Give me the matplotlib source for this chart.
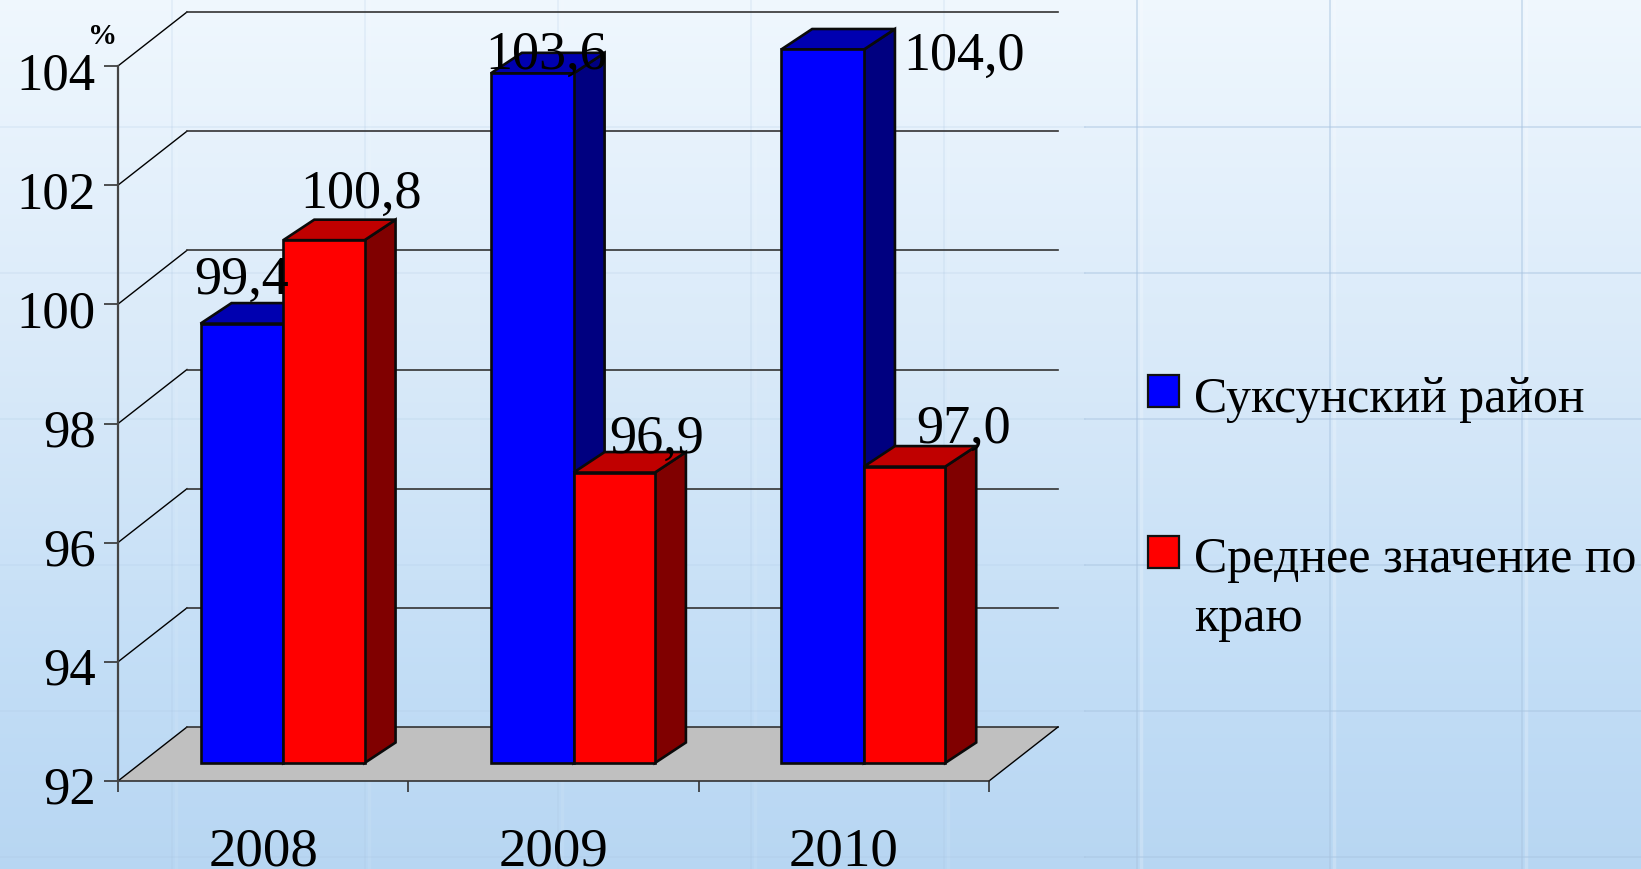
import numpy as np
from matplotlib import pyplot as plt
from matplotlib import transforms
from matplotlib.patches import Polygon, Rectangle

years = ['2008', '2009', '2010']
suksun = [99.4, 103.6, 104.0]
krai = [100.8, 96.9, 97.0]
suksun_labels = ['99,4', '103,6', '104,0']
krai_labels = ['100,8', '96,9', '97,0']
y_ticks = [92, 94, 96, 98, 100, 102, 104]
legend_names = ['Суксунский район', 'Среднее значение по\nкраю']

W, H = 1641, 869
FONT = 'Liberation Serif'

# size of the fake 3d box in data units (one year = 290.33 px, one percent = 59.58 px)
PX_X = 3 / 871
PX_Y = 12 / 715
DX = 69 * PX_X
DY = 54 * PX_Y
BAR_SHIFT_X = 23 * PX_X
BAR_SHIFT_Y = 16.5 * PX_Y
BAR_DX = 31 * PX_X
BAR_DY = 20.5 * PX_Y
BAR_LOW = 92 + 18 * PX_Y


def proj(x, y, d):
    return x + d * DX, y + d * DY


def px(x0, y0):
    # pixel (from top left) to figure fraction
    return x0 / W, 1 - y0 / H


def box(ax, x0, x1, top, front, side, roof, z):
    x0 = x0 + BAR_SHIFT_X
    x1 = x1 + BAR_SHIFT_X
    t = top + BAR_SHIFT_Y
    pts_side = [(x1, BAR_LOW), (x1 + BAR_DX, BAR_LOW + BAR_DY), (x1 + BAR_DX, t + BAR_DY), (x1, t)]
    pts_roof = [(x0, t), (x0 + BAR_DX, t + BAR_DY), (x1 + BAR_DX, t + BAR_DY), (x1, t)]
    pts_front = [(x0, BAR_LOW), (x1, BAR_LOW), (x1, t), (x0, t)]
    for pts, col in [(pts_side, side), (pts_roof, roof), (pts_front, front)]:
        ax.add_patch(Polygon(pts, fc=col, ec='#0a0a0a', lw=1.9, joinstyle='miter', clip_on=False, zorder=z))


fig = plt.figure(figsize=(W / 100, H / 100), dpi=100)

# background gradient
bg = fig.add_axes([0, 0, 1, 1], zorder=0)
stops = np.array([[0.94, 0.97, 0.995], [0.84, 0.91, 0.975], [0.765, 0.87, 0.965], [0.72, 0.84, 0.95]])
rows = np.zeros((H, 1, 3))
for c in range(3):
    rows[:, 0, c] = np.interp(np.arange(H), [0, 400, 660, H - 1], stops[:, c])
bg.imshow(rows, aspect='auto', extent=[0, W, H, 0])
# faint window pattern of the slide
for vx in [172, 365, 558, 751, 944, 1137, 1330, 1522]:
    alpha = 0.55 if vx > 1100 else 0.2
    bg.axvline(vx, color='#a9c4e0', lw=1.2, alpha=alpha)
    bg.axvline(vx + 4, color='white', lw=2.5, alpha=alpha * 0.4)
for hy in [127, 273, 419, 565, 711, 857]:
    bg.plot([0, 1085], [hy, hy], color='#a9c4e0', lw=1.2, alpha=0.2)
    bg.plot([1085, W], [hy, hy], color='#a9c4e0', lw=1.4, alpha=0.45)
bg.set_xlim(0, W)
bg.set_ylim(H, 0)
bg.axis('off')

# front plane of the chart, 118..989 px wide and 66..781 px high
ax = fig.add_axes([118 / W, 1 - 781 / H, 871 / W, 715 / H], zorder=1)
ax.patch.set_alpha(0)
ax.set_xlim(0, 3)
ax.set_ylim(92, 104)
for s in ax.spines.values():
    s.set_visible(False)

# floor
ax.add_patch(Polygon([proj(0, 92, 0), proj(3, 92, 0), proj(3, 92, 1), proj(0, 92, 1)],
                     fc='#c0c0c0', ec='none', clip_on=False, zorder=1))

# gridlines running back then along the wall
for t in y_ticks:
    bx, by = proj(0, t, 1)
    ex, ey = proj(3, t, 1)
    ax.plot([0, bx], [t, by], color='black', lw=1, clip_on=False, zorder=2)
    ax.plot([bx, ex], [by, ey], color='#333333', lw=1.2, clip_on=False, zorder=2)
ax.plot([3, proj(3, 92, 1)[0]], [92, proj(3, 92, 1)[1]], color='black', lw=1, clip_on=False, zorder=2)
ax.plot([0, 3], [92, 92], color='#333333', lw=1.2, clip_on=False, zorder=2)
ax.plot([0, 0], [92, 104], color='#444444', lw=1.6, clip_on=False, zorder=2)

# bars, left to right so the later ones cover the earlier
for i in range(3):
    box(ax, i + 0.205, i + 0.49, suksun[i], '#0000ff', '#000080', '#0000b0', 3 + i * 2)
    box(ax, i + 0.49, i + 0.77, krai[i], '#ff0000', '#800000', '#c00000', 4 + i * 2)

# value labels, hand placed like in the original
suksun_off = [(0, 30), (14, 5), (141, -20)]
krai_off = [(37, 32), (42, 20), (59, 24)]
for i in range(3):
    ax.annotate(suksun_labels[i], (i + 0.3475 + BAR_SHIFT_X, suksun[i] + BAR_SHIFT_Y), xytext=suksun_off[i],
                textcoords='offset pixels', ha='center', va='baseline', family=FONT, fontsize=39,
                zorder=20, annotation_clip=False)
    ax.annotate(krai_labels[i], (i + 0.63 + BAR_SHIFT_X, krai[i] + BAR_SHIFT_Y), xytext=krai_off[i],
                textcoords='offset pixels', ha='center', va='baseline', family=FONT, fontsize=39,
                zorder=20, annotation_clip=False)

# ticks
ax.set_yticks(y_ticks)
ax.set_yticklabels([str(t) for t in y_ticks], family=FONT, fontsize=38, va='center')
ax.tick_params(axis='y', length=10, width=1.2, color='#333333', pad=6)
shift = transforms.ScaledTranslation(0, -10 / 100, fig.dpi_scale_trans)
for lab in ax.get_yticklabels():
    lab.set_transform(lab.get_transform() + shift)
ax.set_xticks([0, 1, 2, 3])
ax.set_xticklabels([])
ax.tick_params(axis='x', length=8, width=1.2, color='#333333')
for i, y in enumerate(years):
    ax.annotate(y, (i + 0.5, 92), xytext=(0, -85), textcoords='offset pixels', ha='center', va='baseline',
                family=FONT, fontsize=39.5, annotation_clip=False)

fig.text(*px(103, 44), '%', family=FONT, fontsize=21, fontweight='bold', ha='center', va='baseline')

# legend
swatches = [(375, '#0000ff'), (536, '#ff0000')]
baselines = [412, 572]
for (sy, col), base, name in zip(swatches, baselines, legend_names):
    fig.add_artist(Rectangle(px(1148, sy + 32), 31 / W, 32 / H, transform=fig.transFigure,
                             fc=col, ec='#111111', lw=1.6))
    for j, line in enumerate(name.split('\n')):
        fig.text(*px(1194, base + j * 59), line, family=FONT, fontsize=36, ha='left', va='baseline')

fig.savefig('out.png', dpi=100)
